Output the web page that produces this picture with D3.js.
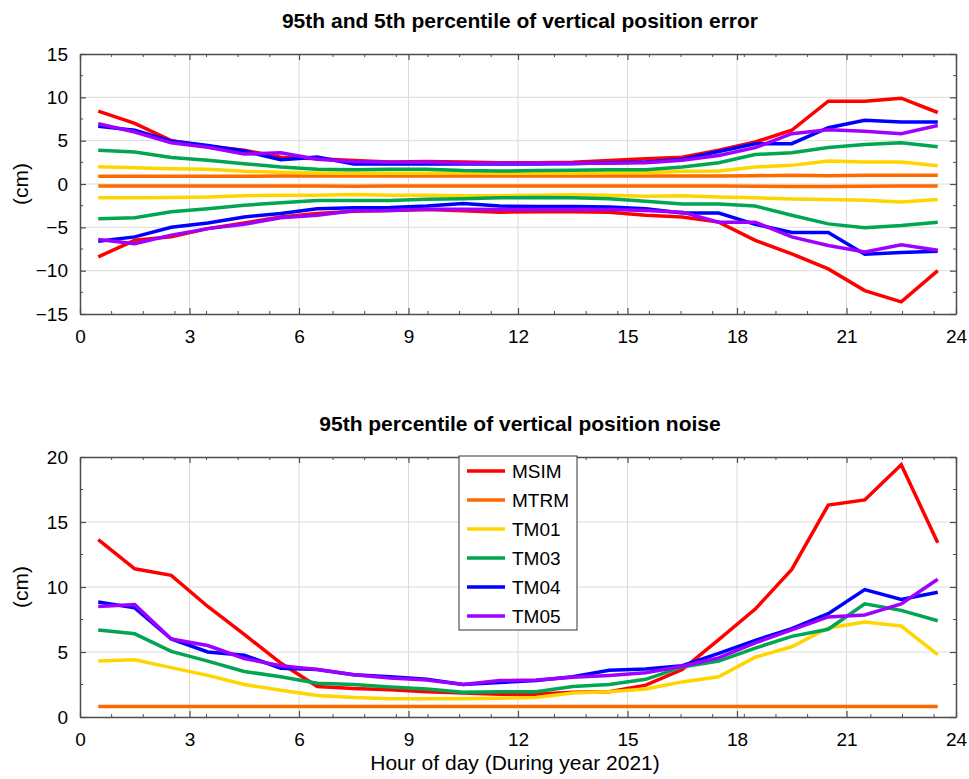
<!DOCTYPE html>
<html>
<head>
<meta charset="utf-8">
<script src="https://cdn.jsdelivr.net/npm/d3@7"></script>
<style>
  body { margin: 0; background: #fff; }
  text { font-family: "Liberation Sans", Arial, sans-serif; fill: #000; }
</style>
</head>
<body>
<div id="chart"></div>
<script>
// Data
const hours = [0.5, 1.5, 2.5, 3.5, 4.5, 5.5, 6.5, 7.5, 8.5, 9.5, 10.5, 11.5,
               12.5, 13.5, 14.5, 15.5, 16.5, 17.5, 18.5, 19.5, 20.5, 21.5, 22.5, 23.5];
const stations = ["MSIM", "MTRM", "TM01", "TM03", "TM04", "TM05"];
const colors = ["#ff0000", "#ff6a00", "#ffd500", "#00a651", "#0000ff", "#a000ff"];

// top panel: 95th (upper) and 5th (lower) percentile of error, cm
const msimUp = [8.4, 7.0, 5.0, 4.35, 3.9, 3.1, 2.9, 2.7, 2.55, 2.6, 2.55, 2.45, 2.45, 2.5, 2.7, 2.9, 3.1, 3.9, 4.85, 6.2, 9.55, 9.55, 9.9, 8.25];
const msimLo = [-8.4, -6.5, -6.1, -5.15, -4.5, -3.8, -3.4, -3.15, -3.05, -2.95, -3.1, -3.25, -3.2, -3.2, -3.25, -3.6, -3.8, -4.4, -6.5, -8.05, -9.8, -12.3, -13.6, -10.0];
const mtrmUp = [0.9, 0.9, 0.9, 0.9, 0.9, 0.92, 0.92, 0.92, 0.92, 0.92, 0.92, 0.92, 0.92, 0.92, 0.92, 0.92, 0.92, 0.92, 0.95, 1.02, 0.95, 1.0, 1.0, 1.0];
const mtrmLo = [-0.22, -0.22, -0.22, -0.22, -0.22, -0.22, -0.22, -0.25, -0.22, -0.22, -0.22, -0.22, -0.22, -0.22, -0.22, -0.22, -0.22, -0.22, -0.25, -0.3, -0.3, -0.25, -0.22, -0.22];
const tm01Up = [2.0, 1.88, 1.77, 1.7, 1.46, 1.35, 1.27, 1.25, 1.25, 1.25, 1.3, 1.25, 1.25, 1.25, 1.3, 1.31, 1.46, 1.5, 1.96, 2.15, 2.65, 2.55, 2.55, 2.1];
const tm01Lo = [-1.6, -1.6, -1.55, -1.5, -1.35, -1.3, -1.3, -1.2, -1.3, -1.3, -1.35, -1.35, -1.3, -1.25, -1.3, -1.4, -1.35, -1.5, -1.58, -1.73, -1.8, -1.88, -2.08, -1.8];
const tm03Up = [3.9, 3.7, 3.05, 2.75, 2.35, 1.95, 1.7, 1.65, 1.7, 1.7, 1.55, 1.5, 1.55, 1.6, 1.65, 1.65, 1.95, 2.45, 3.4, 3.6, 4.2, 4.55, 4.75, 4.3];
const tm03Lo = [-4.0, -3.9, -3.2, -2.85, -2.45, -2.15, -1.9, -1.9, -1.9, -1.75, -1.7, -1.6, -1.55, -1.6, -1.7, -2.0, -2.3, -2.3, -2.55, -3.6, -4.6, -5.05, -4.8, -4.4];
const tm04Up = [6.65, 6.2, 4.95, 4.45, 3.8, 2.8, 3.1, 2.3, 2.3, 2.3, 2.3, 2.3, 2.3, 2.35, 2.45, 2.55, 2.85, 3.75, 4.65, 4.65, 6.5, 7.35, 7.15, 7.15];
const tm04Lo = [-6.6, -6.1, -5.0, -4.5, -3.8, -3.4, -2.85, -2.75, -2.7, -2.55, -2.25, -2.55, -2.6, -2.6, -2.65, -2.85, -3.35, -3.35, -4.65, -5.6, -5.6, -8.1, -7.9, -7.75];
const tm05Up = [6.95, 6.0, 4.75, 4.25, 3.45, 3.6, 2.85, 2.6, 2.5, 2.5, 2.4, 2.4, 2.4, 2.4, 2.4, 2.45, 2.75, 3.3, 4.2, 5.8, 6.25, 6.1, 5.8, 6.75];
const tm05Lo = [-6.4, -6.9, -5.9, -5.15, -4.65, -3.9, -3.6, -3.1, -3.05, -2.9, -2.9, -2.95, -2.95, -2.95, -2.95, -3.05, -3.25, -4.4, -4.4, -6.1, -7.1, -7.85, -7.0, -7.65];

// bottom panel: 95th percentile of noise, cm
const msimNoise = [13.65, 11.4, 10.9, 8.5, 6.35, 4.15, 2.35, 2.2, 2.1, 1.95, 1.85, 1.75, 1.75, 1.9, 1.95, 2.45, 3.65, 5.95, 8.3, 11.35, 16.3, 16.7, 19.4, 13.4];
const mtrmNoise = [0.8, 0.8, 0.8, 0.8, 0.8, 0.8, 0.8, 0.8, 0.8, 0.8, 0.8, 0.8, 0.8, 0.8, 0.8, 0.8, 0.8, 0.8, 0.8, 0.8, 0.8, 0.8, 0.8, 0.8];
const tm01Noise = [4.3, 4.4, 3.8, 3.2, 2.5, 2.05, 1.65, 1.5, 1.4, 1.4, 1.4, 1.45, 1.5, 1.85, 1.95, 2.15, 2.7, 3.1, 4.6, 5.4, 6.85, 7.3, 7.0, 4.8];
const tm03Noise = [6.7, 6.4, 5.05, 4.3, 3.5, 3.1, 2.6, 2.5, 2.3, 2.15, 1.9, 1.95, 1.95, 2.35, 2.5, 2.9, 3.85, 4.3, 5.3, 6.2, 6.75, 8.7, 8.2, 7.4];
const tm04Noise = [8.85, 8.4, 6.0, 5.0, 4.75, 3.75, 3.65, 3.25, 3.1, 2.9, 2.5, 2.65, 2.8, 3.1, 3.6, 3.7, 3.95, 4.9, 5.9, 6.8, 7.95, 9.8, 9.05, 9.6];
const tm05Noise = [8.5, 8.65, 6.0, 5.5, 4.5, 3.95, 3.65, 3.25, 3.0, 2.85, 2.5, 2.8, 2.85, 3.05, 3.2, 3.4, 3.9, 4.55, 5.7, 6.7, 7.7, 7.85, 8.7, 10.6];

const xTicks = [0, 3, 6, 9, 12, 15, 18, 21, 24];
const yTicksTop = [-15, -10, -5, 0, 5, 10, 15];
const yTicksBottom = [0, 5, 10, 15, 20];

const W = 969, H = 779;
const svg = d3.select("#chart").append("svg")
    .attr("width", W)
    .attr("height", H);

const left = 80, right = 956;
const x = d3.scaleLinear().domain([0, 24]).range([left, right]);

// minor ticks: MATLAB put them at an odd spacing, roughly 0.867 h
const xMinor = d3.range(1, 28).map(k => k * 0.8667).filter(v => v < 24 && xTicks.every(t => Math.abs(t - v) > 0.2));

function panel(top, bottom, yDomain, yTicks, title, series) {
    const y = d3.scaleLinear().domain(yDomain).range([bottom, top]);
    const g = svg.append("g");
    const yMinor = d3.range(yDomain[0] + 2.5, yDomain[1], 5);

    // grid
    g.append("g").selectAll("line").data(xTicks.slice(1, -1)).join("line")
        .attr("x1", d => x(d)).attr("x2", d => x(d))
        .attr("y1", top).attr("y2", bottom)
        .attr("stroke", "#dcdcdc").attr("stroke-width", 1);
    g.append("g").selectAll("line").data(yTicks.slice(1, -1)).join("line")
        .attr("x1", left).attr("x2", right)
        .attr("y1", d => y(d)).attr("y2", d => y(d))
        .attr("stroke", "#dcdcdc").attr("stroke-width", 1);

    // lines
    const line = d3.line().x((d, i) => x(hours[i])).y(d => y(d));
    series.forEach(s => {
        g.append("path")
            .datum(s.values)
            .attr("fill", "none")
            .attr("stroke", s.color)
            .attr("stroke-width", 3.5)
            .attr("d", line);
    });

    // axes (ticks point inward, box all round)
    const axisStyle = sel => {
        sel.select(".domain").attr("stroke", "#4d4d4d").attr("stroke-width", 1.5);
        sel.selectAll(".tick line").attr("stroke", "#4d4d4d").attr("stroke-width", 1.2);
        sel.selectAll("text").style("font-size", "19px")
            .style("font-family", "'Liberation Sans', Arial, sans-serif").attr("fill", "#000");
    };
    g.append("g").attr("transform", `translate(0,${bottom})`)
        .call(d3.axisBottom(x).tickValues(xTicks).tickSizeInner(-6).tickSizeOuter(0).tickPadding(16))
        .call(axisStyle);
    g.append("g").attr("transform", `translate(0,${top})`)
        .call(d3.axisTop(x).tickValues(xTicks).tickSizeInner(-6).tickSizeOuter(0).tickFormat(""))
        .call(axisStyle);
    g.append("g").attr("transform", `translate(${left},0)`)
        .call(d3.axisLeft(y).tickValues(yTicks).tickSizeInner(-6).tickSizeOuter(0).tickPadding(12))
        .call(axisStyle);
    g.append("g").attr("transform", `translate(${right},0)`)
        .call(d3.axisRight(y).tickValues(yTicks).tickSizeInner(-6).tickSizeOuter(0).tickFormat(""))
        .call(axisStyle);

    // minor ticks
    [[bottom, -3], [top, 3]].forEach(([yy, dy]) => {
        g.append("g").selectAll("line").data(xMinor).join("line")
            .attr("x1", d => x(d)).attr("x2", d => x(d))
            .attr("y1", yy).attr("y2", yy + dy)
            .attr("stroke", "#4d4d4d").attr("stroke-width", 1);
    });
    [[left, 3], [right, -3]].forEach(([xx, dx]) => {
        g.append("g").selectAll("line").data(yMinor).join("line")
            .attr("x1", xx).attr("x2", xx + dx)
            .attr("y1", d => y(d)).attr("y2", d => y(d))
            .attr("stroke", "#4d4d4d").attr("stroke-width", 1);
    });

    // title and y label
    g.append("text")
        .attr("x", (left + right) / 2 + 2).attr("y", top - 26)
        .attr("text-anchor", "middle")
        .style("font-size", "21px").style("font-weight", "bold")
        .text(title);
    g.append("text")
        .attr("transform", `translate(28,${(top + bottom) / 2}) rotate(-90)`)
        .attr("text-anchor", "middle")
        .style("font-size", "21px")
        .text("(cm)");
    return {g, y};
}

const topSeries = [];
[[msimUp, msimLo], [mtrmUp, mtrmLo], [tm01Up, tm01Lo], [tm03Up, tm03Lo], [tm04Up, tm04Lo], [tm05Up, tm05Lo]]
    .forEach((pair, i) => {
        topSeries.push({values: pair[0], color: colors[i]});
        topSeries.push({values: pair[1], color: colors[i]});
    });
panel(54, 314, [-15, 15], yTicksTop, "95th and 5th percentile of vertical position error", topSeries);

const bottomSeries = [msimNoise, mtrmNoise, tm01Noise, tm03Noise, tm04Noise, tm05Noise]
    .map((v, i) => ({values: v, color: colors[i]}));
panel(457, 717, [0, 20], yTicksBottom, "95th percentile of vertical position noise", bottomSeries);

// x label
svg.append("text")
    .attr("x", (left + right) / 2 - 3).attr("y", 770)
    .attr("text-anchor", "middle")
    .style("font-size", "21px")
    .text("Hour of day (During year 2021)");

// legend
const lg = svg.append("g").attr("transform", "translate(459,456)");
lg.append("rect")
    .attr("width", 118).attr("height", 174)
    .attr("fill", "#fff").attr("stroke", "#333").attr("stroke-width", 1);
const items = lg.selectAll("g.item").data(stations).join("g")
    .attr("class", "item")
    .attr("transform", (d, i) => `translate(0,${15 + i * 29})`);
items.append("line")
    .attr("x1", 8).attr("x2", 46)
    .attr("stroke", (d, i) => colors[i]).attr("stroke-width", 3.5);
items.append("text")
    .attr("x", 53).attr("y", 7)
    .style("font-size", "19px")
    .text(d => d);
</script>
</body>
</html>
